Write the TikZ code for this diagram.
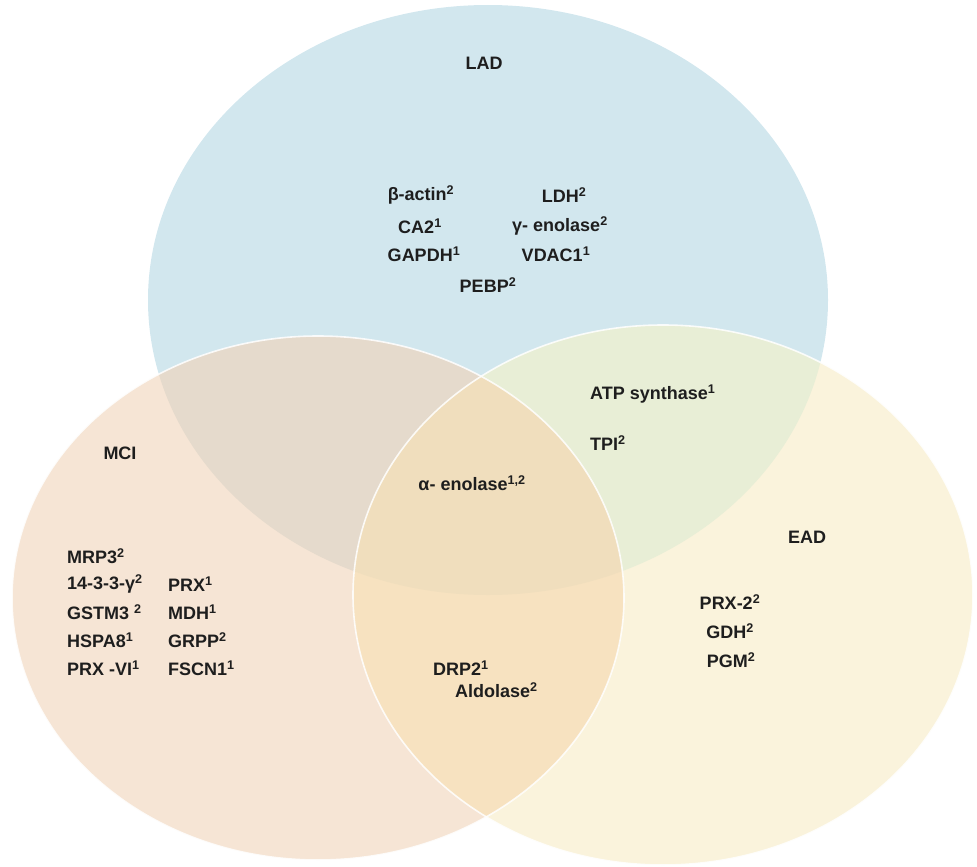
\documentclass[tikz,border=0pt]{standalone}
\usepackage{fontspec}
\setmainfont{Liberation Sans}
\usetikzlibrary{positioning}

\definecolor{ladblue}{HTML}{D2E7EE}
\definecolor{mcipeach}{HTML}{F6E5D5}
\definecolor{eadcream}{HTML}{FAF3DC}
\definecolor{ladmci}{HTML}{E5DACC}
\definecolor{ladead}{HTML}{E8EED6}
\definecolor{mciead}{HTML}{F7E2C0}
\definecolor{allthree}{HTML}{F0DEBD}
\definecolor{labeltext}{HTML}{1E1E1E}

\def\ladshape{(488,300) ellipse [x radius=340pt, y radius=295pt]}
\def\mcishape{(318,598) ellipse [x radius=306pt, y radius=262pt]}
\def\eadshape{(663,595) ellipse [x radius=310pt, y radius=270pt]}
\newcommand\spx[1]{\textsuperscript{#1}}

\begin{document}
\begin{tikzpicture}[x=1pt,y=-1pt,
  lbl/.style={font=\bfseries\fontsize{18}{20}\selectfont, text=labeltext, inner sep=0pt},
  rim/.style={draw=white, line width=1.6pt, opacity=0.85}]
		%%%%% START %%%%%
		\useasboundingbox (0,0) rectangle (977,867);
		
		% the three sets
		\fill[ladblue] \ladshape;
		\fill[mcipeach] \mcishape;
		\fill[eadcream] \eadshape;
		
		% pairwise overlaps
		\begin{scope}
			\clip \ladshape;
			\fill[ladmci] \mcishape;
			\fill[ladead] \eadshape;
		\end{scope}
		\begin{scope}
			\clip \mcishape;
			\fill[mciead] \eadshape;
		\end{scope}
		
		% middle
		\begin{scope}
			\clip \ladshape;
			\clip \mcishape;
			\fill[allthree] \eadshape;
		\end{scope}
		
		\draw[rim] \mcishape;
		\draw[rim] \eadshape;
		
		% LAD
		\node[lbl] (lad) at (484,63) {LAD};
		\node[lbl] (bactin) at (421,195) {β-actin\spx{2}};
		\node[lbl] (ldh) at (564,195) {LDH\spx{2}};
		\node[lbl] (ca2) at (420,226) {CA2\spx{1}};
		\node[lbl] (genol) at (560,226) {γ- enolase\spx{2}};
		\node[lbl] (gapdh) at (424,254) {GAPDH\spx{1}};
		\node[lbl] (vdac) at (556,254) {VDAC1\spx{1}};
		\node[lbl] (pebp) at (488,285) {PEBP\spx{2}};
		
		% LAD + EAD
		\node[lbl, anchor=west] (atp) at (590,394) {ATP synthase\spx{1}};
		\node[lbl, anchor=west] (tpi) at (590,443) {TPI\spx{2}};
		
		% all three
		\node[lbl] (aenol) at (472,483) {α- enolase\spx{1,2}};
		
		% MCI
		\node[lbl] (mci) at (120,453) {MCI};
		\node[lbl, anchor=west] (mrp) at (67,556) {MRP3\spx{2}};
		\node[lbl, anchor=west] (ywhag) at (67,584) {14-3-3-γ\spx{2}};
		\node[lbl, anchor=west] (gstm) at (67,612) {GSTM3 \spx{2}};
		\node[lbl, anchor=west] (hspa) at (67,640) {HSPA8\spx{1}};
		\node[lbl, anchor=west] (prxvi) at (67,668) {PRX -VI\spx{1}};
		\node[lbl, anchor=west] (prx) at (168,584) {PRX\spx{1}};
		\node[lbl, anchor=west] (mdh) at (168,612) {MDH\spx{1}};
		\node[lbl, anchor=west] (grpp) at (168,640) {GRPP\spx{2}};
		\node[lbl, anchor=west] (fscn) at (168,668) {FSCN1\spx{1}};
		
		% MCI + EAD
		\node[lbl, anchor=west] (drp) at (433,668) {DRP2\spx{1}};
		\node[lbl, anchor=west] (aldo) at (455,690) {Aldolase\spx{2}};
		
		% EAD
		\node[lbl] (ead) at (807,537) {EAD};
		\node[lbl] (prx2) at (730,602) {PRX-2\spx{2}};
		\node[lbl] (gdh) at (730,631) {GDH\spx{2}};
		\node[lbl] (pgm) at (731,660) {PGM\spx{2}};
		
		%%%%% END %%%%%
\end{tikzpicture}
\end{document}
